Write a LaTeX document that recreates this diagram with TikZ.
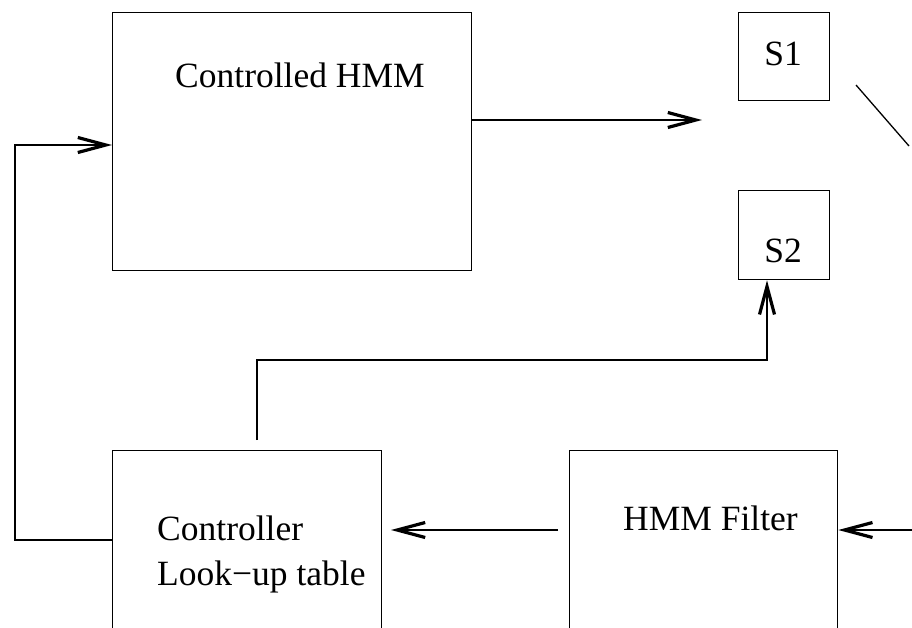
\documentclass[tikz,border=0pt]{standalone}
\usepackage{fontspec}
\setmainfont{Liberation Serif}
\usetikzlibrary{arrows.meta}
\begin{document}
\begin{tikzpicture}[x=1pt,y=-1pt,
  box/.style={draw,line width=1.3pt,inner sep=0pt,anchor=north west},
  lbl/.style={inner sep=0pt,anchor=base west,font=\fontsize{35.5}{42}\selectfont},
  wire/.style={line width=1.3pt},
  arr/.style={wire,-{Straight Barb[length=28pt,width=15pt,line width=3.2pt]}}]
\useasboundingbox (0,0) rectangle (912,627);
\clip (0,0) rectangle (912,627);

% blocks
\node[box,minimum width=359pt,minimum height=258pt] (hmm) at (112,12) {};
\node[box,minimum width=91pt,minimum height=88pt] (s1) at (738,12) {};
\node[box,minimum width=91pt,minimum height=89pt] (s2) at (738,190) {};
\node[box,minimum width=269pt,minimum height=250pt] (ctrl) at (112,450) {};
\node[box,minimum width=268pt,minimum height=250pt] (filt) at (569,450) {};

% labels
\node[lbl] (thmm) at (175,87) {Controlled HMM};
\node[lbl,anchor=base] (ts1) at (783,65) {S1};
\node[lbl,anchor=base] (ts2) at (783,262) {S2};
\node[lbl] (tctrl) at (157,540) {Controller};
\node[lbl] (tlook) at (157,585) {Look−up table};
\node[lbl] (tfilt) at (623,530) {HMM Filter};

% free ends
\coordinate (outtip) at (702,120);
\coordinate (ctrltop) at (257,440);
\coordinate (fa) at (558,530);
\coordinate (fb) at (391,530);
\coordinate (inright) at (912,530);
\coordinate (swa) at (856,85);
\coordinate (swb) at (909,146);

% connectors
\draw[arr] (hmm.east |- outtip) -- (outtip);
\draw[arr] (ctrltop) |- (767,360) -- (s2.south -| 767,0);
\draw[arr] (ctrl.west |- 0,540) -| (15,145) -- (hmm.west |- 0,145);
\draw[arr] (fa) -- (fb);
\draw[arr] (inright) -- (filt.east |- inright);
\draw[wire] (swa) -- (swb);
\end{tikzpicture}
\end{document}
